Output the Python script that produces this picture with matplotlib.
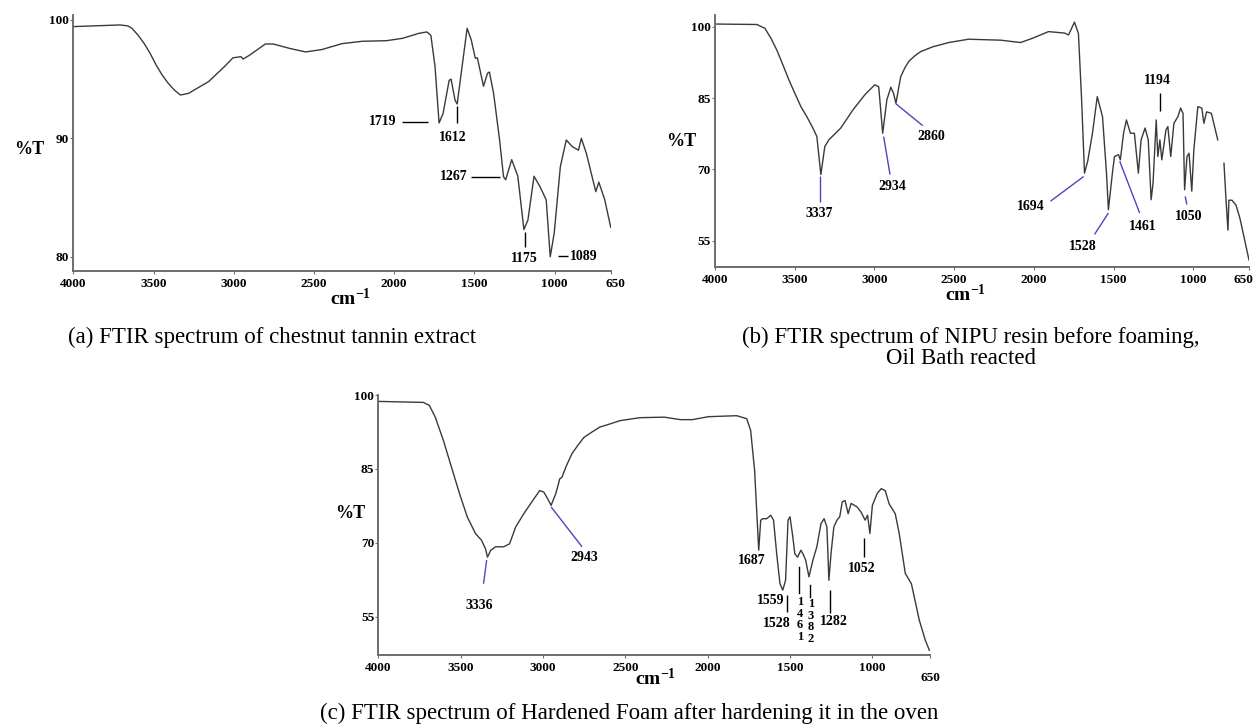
import numpy as np
import matplotlib
matplotlib.use('Agg')
import matplotlib.pyplot as plt
import matplotlib.transforms as mtrans

plt.rcParams['font.family'] = ['Liberation Serif', 'DejaVu Serif']
plt.rcParams['mathtext.fontset'] = 'custom'
plt.rcParams['mathtext.rm'] = 'Liberation Serif:bold'
plt.rcParams['mathtext.bf'] = 'Liberation Serif:bold'

# ---------------- data ----------------
xticks = [4000, 3500, 3000, 2500, 2000, 1500, 1000, 650]

# (a) chestnut tannin extract
wn_a = [4000, 3710, 3660, 3635, 3597, 3559, 3521, 3484, 3446, 3408,
        3370, 3332, 3282, 3156, 3055,
        3005, 2955, 2942, 2904, 2803, 2753, 2652, 2552, 2451, 2325,
        2199, 2048, 1947, 1846, 1796, 1771, 1745, 1720, 1695, 1657,
        1645, 1620, 1607, 1582, 1545, 1519, 1494, 1481, 1443, 1418,
        1406, 1380, 1343, 1318, 1305, 1267, 1229, 1191, 1166, 1128,
        1090, 1052, 1027, 1002, 964, 927, 889, 851, 833, 801,
        763, 743, 724, 687, 650]
T_a = [99.44, 99.58, 99.5, 99.3, 98.73, 98.03, 97.18, 96.2, 95.35, 94.65,
       94.08, 93.66, 93.8, 94.8, 96.1,
       96.8, 96.9, 96.7, 97.0, 97.97, 97.97, 97.6, 97.3, 97.5, 98.0,
       98.2, 98.25, 98.45, 98.87, 98.99, 98.7, 96.06, 91.3, 92.1, 94.9,
       95.0, 93.2, 92.9, 95.5, 99.3, 98.3, 96.76, 96.8, 94.4, 95.5,
       95.6, 93.8, 89.9, 86.76, 86.5, 88.2, 86.8, 82.3, 83.1, 86.8,
       85.9, 84.8, 80.0, 82.0, 87.6, 89.86, 89.3, 89.0, 90.0, 88.7,
       86.6, 85.5, 86.3, 84.8, 82.5]
yticks_a = [80, 90, 100]

# (b) NIPU resin before foaming
wn_b = [4000, 3737, 3687, 3649, 3612, 3574, 3536, 3499, 3461, 3424,
        3386, 3361, 3336, 3311,
        3286, 3211, 3135, 3060, 2998, 2973, 2948, 2922, 2897, 2880,
        2865, 2835, 2810, 2785, 2747, 2709, 2634, 2534, 2409, 2208,
        2083, 2008, 1908,
        1807, 1782, 1745, 1720, 1700, 1682, 1662, 1632, 1602, 1569,
        1544, 1532, 1507, 1494, 1469, 1457, 1437, 1419, 1394, 1369,
        1344, 1327, 1302, 1282, 1264, 1252, 1232, 1222, 1209, 1197,
        1171, 1159, 1141, 1121, 1096, 1079, 1064, 1054, 1039, 1026,
        1009, 996, 971, 946, 933, 916, 886, 846]
T_b = [100.6, 100.5, 99.7, 97.6, 95.1, 92.0, 88.8, 86.0, 83.2, 81.1,
       78.7, 76.9, 68.9, 74.8,
       76.2, 78.7, 82.5, 85.7, 87.8, 87.4, 77.6, 84.6, 87.3, 86.0,
       83.9, 89.5, 91.3, 92.7, 93.9, 94.8, 95.8, 96.7, 97.4, 97.2,
       96.7, 97.6, 99.0,
       98.7, 98.3, 101.0, 98.6, 84.6, 69.2, 71.7, 77.6, 85.3, 81.1,
       69.2, 61.5, 69.2, 72.7, 73.1, 72.0, 77.6, 80.4, 77.6, 77.6,
       69.2, 76.2, 78.7, 76.2, 63.6, 67.1, 80.4, 72.7, 76.2, 72.0,
       78.3, 79.0, 72.7, 79.7, 81.1, 82.9, 81.8, 65.7, 72.7, 73.4,
       65.4, 74.1, 83.2, 82.9, 79.7, 82.1, 81.8, 76.2]
wn_b_tail = [807, 794, 782, 776, 757, 732, 707, 681, 650]
T_b_tail = [71.3, 63.5, 57.2, 63.5, 63.5, 62.5, 59.7, 55.7, 50.9]
yticks_b = [55, 70, 85, 100]

# (c) hardened foam
wn_c = [4000, 3727, 3690, 3654, 3605, 3556, 3507, 3459, 3410, 3373,
        3349, 3337, 3317, 3288, 3239, 3203, 3166, 3117, 3068, 3020,
        2995, 2971, 2951, 2922, 2898, 2885, 2861, 2824, 2788, 2751,
        2702, 2654, 2605,
        2532, 2410, 2263, 2166, 2093, 1995, 1824, 1763, 1739, 1715,
        1690, 1678, 1666, 1642, 1617, 1600, 1581, 1561, 1544, 1527,
        1512, 1500, 1483, 1471, 1454, 1434, 1422, 1405, 1385, 1361,
        1337, 1312, 1293, 1276, 1264, 1251, 1234, 1215, 1198, 1183,
        1166, 1147, 1129, 1093, 1068, 1044, 1029, 1015, 1000, 971,
        946, 922, 898, 861, 837, 800, 763, 715, 678, 654]
T_c = [98.7, 98.5, 97.9, 95.5, 90.8, 85.4, 80.0, 75.2, 71.9, 70.5,
       68.8, 67.1, 68.5, 69.2, 69.2, 69.8, 73.2, 75.9, 78.3, 80.6,
       80.3, 78.9, 77.6, 80.0, 83.0, 83.3, 85.4, 88.1, 89.8, 91.4,
       92.5, 93.5, 94.0,
       94.8, 95.4, 95.5, 95.0, 95.0, 95.6, 95.8, 95.2, 92.8, 84.7,
       68.5, 74.6, 74.9, 74.9, 75.6, 74.6, 67.8, 61.7, 60.4, 62.4,
       74.6, 75.3, 71.2, 67.8, 67.1, 68.5, 67.8, 66.5, 63.1, 66.5,
       69.2, 73.9, 74.9, 73.2, 62.4, 67.8, 73.2, 74.6, 75.3, 78.3,
       78.6, 75.9, 78.0, 77.3, 76.2, 74.6, 75.6, 71.9, 77.6, 80.0,
       81.0, 80.6, 77.9, 75.9, 71.9, 63.8, 61.7, 54.3, 50.2, 48.2]
yticks_c = [55, 70, 85, 100]

# annotations: (label, text_x, text_y, ha, line_x1, line_y1, line_x2, line_y2, line colour)
BLUE = '#4747c2'
ann_a = [
    ('1719', 1985, 91.4, 'right', 1952, 91.4, 1791, 91.4, 'black'),
    ('1612', 1632, 90.1, 'center', 1607, 92.7, 1607, 91.3, 'black'),
    ('1267', 1544, 86.76, 'right', 1519, 86.76, 1337, 86.76, 'black'),
    ('1175', 1191, 79.86, 'center', 1186, 82.1, 1186, 80.8, 'black'),
    ('1089', 902, 80.06, 'left', 977, 80.06, 914, 80.06, 'black'),
]
ann_b = [
    ('3337', 3348, 60.8, 'center', 3341, 68.5, 3341, 63.1, BLUE),
    ('2934', 2890, 66.3, 'center', 2942, 76.9, 2902, 68.9, BLUE),
    ('2860', 2642, 76.9, 'center', 2865, 83.8, 2697, 79.2, BLUE),
    ('1694', 2020, 62.2, 'center', 1687, 68.5, 1895, 63.3, BLUE),
    ('1528', 1694, 53.8, 'center', 1532, 60.8, 1619, 56.3, BLUE),
    ('1461', 1314, 58.0, 'center', 1461, 71.7, 1336, 60.8, BLUE),
    ('1050', 1030, 60.0, 'center', 1050, 64.3, 1040, 62.6, BLUE),
    ('1194', 1226, 88.7, 'center', 1206, 86.0, 1206, 82.2, 'black'),
]
ann_c = [
    ('3336', 3385, 57.3, 'center', 3342, 66.5, 3361, 61.7, BLUE),
    ('2943', 2751, 67.0, 'center', 2951, 77.3, 2763, 69.2, BLUE),
    ('1687', 1732, 66.5, 'center', None, None, None, None, None),
    ('1559', 1617, 58.4, 'center', 1520, 59.4, 1520, 56.0, 'black'),
    ('1528', 1580, 53.6, 'center', None, None, None, None, None),
    ('1282', 1234, 54.0, 'center', 1259, 60.4, 1259, 55.7, 'black'),
    ('1052', 1063, 64.8, 'center', 1051, 70.9, 1051, 67.1, 'black'),
]
# vertically stacked labels in (c)
vlab_c = [
    ('1\n4\n6\n1', 1439, 59.2, 1446, 65.1, 1446, 59.8),
    ('1\n3\n8\n2', 1373, 58.8, 1380, 61.4, 1380, 59.0),
]

# ---------------- figure ----------------
W, H = 1256, 728
fig = plt.figure(figsize=(W / 100, H / 100), dpi=100)
fig.patch.set_facecolor('white')


def add_axes(left, right, top, bottom):
    return fig.add_axes([left / W, 1 - bottom / H, (right - left) / W, (bottom - top) / H])


def ftext(x, y, s, **kw):
    fig.text(x / W, 1 - y / H, s, **kw)


LINE = '#3a3a3a'
SPINE = '#6e6e6e'


def shift_last_xlabel(ax, dx, dy):
    lab = ax.get_xticklabels()[-1]
    lab.set_transform(lab.get_transform() +
                      mtrans.ScaledTranslation(dx / 100, -dy / 100, fig.dpi_scale_trans))


def style(ax, ylim, yticks):
    ax.set_xlim(4000, 650)
    ax.set_ylim(*ylim)
    ax.set_xticks(xticks)
    ax.set_xticklabels([str(t) for t in xticks])
    ax.set_yticks(yticks)
    ax.set_yticklabels([str(t) for t in yticks])
    for s in ['top', 'right']:
        ax.spines[s].set_visible(False)
    for s in ['left', 'bottom']:
        ax.spines[s].set_color(SPINE)
        ax.spines[s].set_linewidth(1.4)
    ax.tick_params(axis='both', length=2, width=0.8, color=SPINE, labelsize=9.5)
    ax.tick_params(axis='x', pad=3)
    ax.tick_params(axis='y', pad=1)
    for lab in ax.get_xticklabels() + ax.get_yticklabels():
        lab.set_fontweight('bold')
    ax.patch.set_alpha(0)


def annotate(ax, anns):
    for lab, tx, ty, ha, x1, y1, x2, y2, col in anns:
        if x1 is not None:
            ax.plot([x1, x2], [y1, y2], color=col, lw=1.0, solid_capstyle='butt')
        ax.text(tx, ty, lab, ha=ha, va='center', fontsize=10, fontweight='bold')


axA = add_axes(73.3, 610.7, 15, 270.7)
axA.plot(wn_a, T_a, color=LINE, lw=1.0)
style(axA, (78.82, 100.42), yticks_a)
shift_last_xlabel(axA, 5, 0)
annotate(axA, ann_a)

axB = add_axes(715, 1249, 15, 266.7)
axB.plot(wn_b, T_b, color=LINE, lw=1.0)
axB.plot(wn_b_tail, T_b_tail, color=LINE, lw=1.0)
style(axB, (49.5, 102.5), yticks_b)
shift_last_xlabel(axB, -6, 0)
annotate(axB, ann_b)

axC = add_axes(378.3, 930, 395, 655)
axC.plot(wn_c, T_c, color=LINE, lw=1.0)
style(axC, (47.24, 99.87), yticks_c)
shift_last_xlabel(axC, 0, 10)
annotate(axC, ann_c)
for lab, tx, ty, x1, y1, x2, y2 in vlab_c:
    axC.plot([x1, x2], [y1, y2], color='black', lw=1.0)
    axC.text(tx, ty, lab, ha='center', va='top', fontsize=9, fontweight='bold', linespacing=0.95)

# axis titles
for x, y in [(29, 150), (681, 142), (350, 513)]:
    ftext(x, y, '%T', ha='center', va='center', fontsize=13, fontweight='bold')
for x, y in [(350, 298), (965, 294), (655, 679)]:
    ftext(x, y, r'$\mathbf{cm^{-1}}$', ha='center', va='center', fontsize=14)

# captions
CAP = 16.5
ftext(272, 337, '(a) FTIR spectrum of chestnut tannin extract', ha='center', va='center', fontsize=CAP)
ftext(971, 337, '(b) FTIR spectrum of NIPU resin before foaming,', ha='center', va='center', fontsize=CAP)
ftext(961, 359, 'Oil Bath reacted', ha='center', va='center', fontsize=CAP)
ftext(629, 713, '(c) FTIR spectrum of Hardened Foam after hardening it in the oven',
      ha='center', va='center', fontsize=CAP)

fig.savefig('out.png', dpi=100, facecolor='white')
